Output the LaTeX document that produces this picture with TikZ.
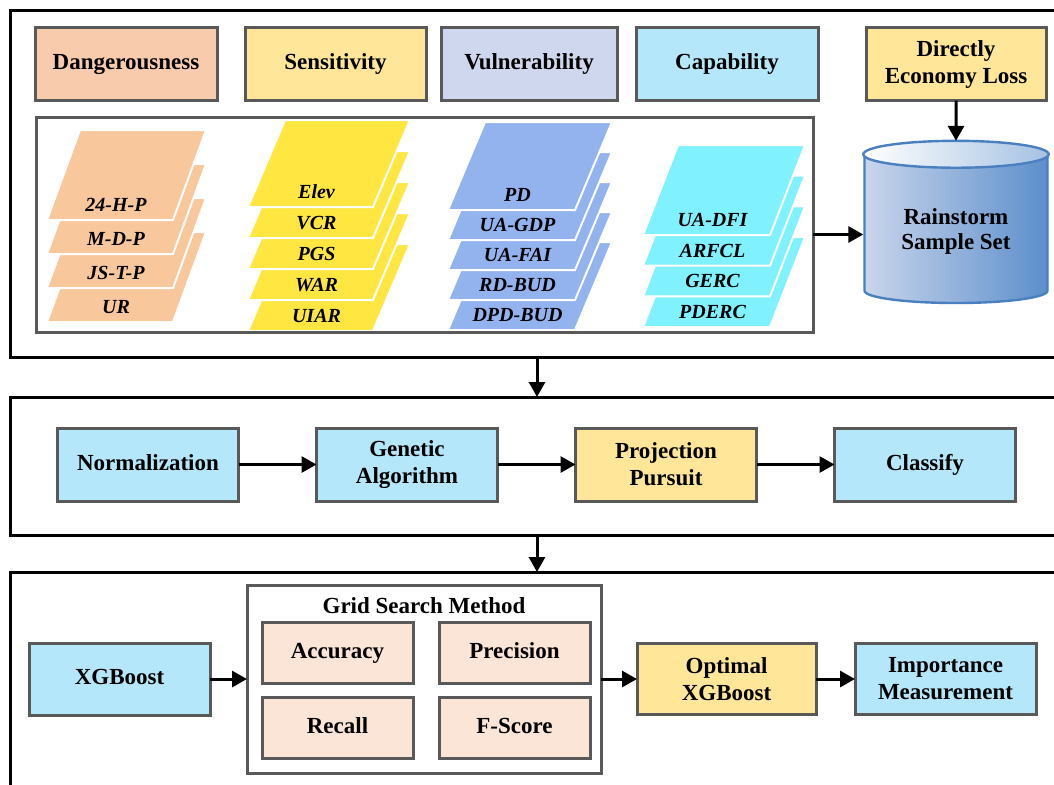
\documentclass[tikz,border=0pt]{standalone}
\usepackage{fontspec}
\setmainfont{Liberation Serif}
\usetikzlibrary{positioning, shapes.geometric, arrows.meta, calc}

\definecolor{borde}{HTML}{595959}
\definecolor{melocoton}{HTML}{F8CBAD}
\definecolor{amarillo}{HTML}{FFE699}
\definecolor{lavanda}{HTML}{CFD7EE}
\definecolor{celeste}{HTML}{B4E7FA}
\definecolor{rosado}{HTML}{FBE5D6}
\definecolor{naranja}{HTML}{F9C79C}
\definecolor{limon}{HTML}{FFE641}
\definecolor{azul}{HTML}{93B3EF}
\definecolor{cian}{HTML}{7FF1FF}
\definecolor{cilclaro}{HTML}{C9D5EC}
\definecolor{cilosc}{HTML}{5C8FCB}
\definecolor{cilborde}{HTML}{4A80C0}

\tikzset{
	caja/.style={draw=borde, line width=1.5pt, outer sep=0pt, align=center,
		minimum width=90.5pt, minimum height=36.5pt,
		font=\bfseries\fontsize{11.5}{13.5}\selectfont},
	linea/.style={text height=8pt, text depth=2.5pt},
	marco/.style={draw=black, line width=1.5pt, outer sep=0pt, anchor=north west, minimum width=527pt},
	etiq/.style={font=\bfseries\itshape\fontsize{10}{12}\selectfont, inner sep=1pt},
	cilindro/.style={cylinder, shape border rotate=90, aspect=0.2, draw=cilborde, line width=1.2pt,
		minimum width=91.5pt, minimum height=80.5pt, left color=cilclaro, middle color=cilclaro!90!cilosc,
		right color=cilosc, align=center, font=\bfseries\fontsize{11.5}{12.5}\selectfont},
	flecha/.style={-{Triangle[length=7.5pt, width=8pt]}, line width=1.5pt}
}

% capa: x0, y base, ancho, desplazamiento, alto, color, nombre, texto
\newcommand{\capa}[8]{%
	\filldraw[fill=#6, draw=white, line width=1pt] (#1,#2) -- ++(#3,0) -- ++(#4,-#5) -- ++(-#3,0) -- cycle;
	\node[etiq] (#7) at ({#1+#3/2+6},{#2-15}) {#8};}

\begin{document}
\begin{tikzpicture}[x=0.5pt, y=-0.5pt]
	\useasboundingbox (0,0) rectangle (1054,784);

	% marcos
	\node [marco, minimum height=173.5pt] (etapa1) at (10,10) {};
	\node [marco, minimum height=69pt] (etapa2) at (10,397) {};
	\node [marco, minimum height=114pt] (etapa3) at (10,572) {};

	% factores
	\node [caja, linea, fill=melocoton, minimum width=91pt] (peligro) at (126,63.5) {Dangerousness};
	\node [caja, linea, fill=amarillo] (sensib) [right=14pt of peligro] {Sensitivity};
	\node [caja, linea, fill=lavanda, minimum width=88pt] (vulner) [right=7.5pt of sensib] {Vulnerability};
	\node [caja, linea, fill=celeste, minimum width=91pt] (capac) [right=9.5pt of vulner] {Capability};
	\node [caja, fill=amarillo, minimum width=90pt] (perdida) at (956,64) {Directly\\Economy Loss};

	% indicadores
	\foreach \k/\t in {3/UR, 2/JS-T-P, 1/M-D-P, 0/24-H-P}
		\capa{47}{220+34*\k}{126}{33}{90}{naranja}{pel\k}{\t};
	\foreach \k/\t in {4/UIAR, 3/WAR, 2/PGS, 1/VCR, 0/Elev}
		\capa{248}{207+31*\k}{125}{37}{87}{limon}{sen\k}{\t};
	\foreach \k/\t in {4/DPD-BUD, 3/RD-BUD, 2/UA-FAI, 1/UA-GDP, 0/PD}
		\capa{448}{210+30*\k}{127}{37}{88}{azul}{vul\k}{\t};
	\foreach \k/\t in {3/PDERC, 2/GERC, 1/ARFCL, 0/UA-DFI}
		\capa{643}{235+30.7*\k}{127}{35}{90}{cian}{cap\k}{\t};
	\node [draw=borde, line width=1.5pt, outer sep=0pt, minimum width=388.5pt, minimum height=107.5pt,
		anchor=north west] (indic) at (36,117) {};

	% muestra
	\node [cilindro, anchor=shape center] (muestra) at (956,222.5) {Rainstorm\\Sample Set};
	\path [draw=cilborde, line width=1.2pt, left color=white, middle color=white, right color=cilosc!55]
		let \p1=(muestra.before top), \p2=(muestra.after top), \p3=(muestra.top) in
		($(\p1)!0.5!(\p2)$) ellipse [x radius={abs(\x2-\x1)/2}, y radius={abs(\y3-\y1)}];

	% proyeccion
	\node [caja, linea, fill=celeste] (norm) at (148,464.5) {Normalization};
	\node [caja, fill=celeste] (genetico) [right=39pt of norm] {Genetic\\Algorithm};
	\node [caja, fill=amarillo] (proyeccion) [right=39pt of genetico] {Projection\\Pursuit};
	\node [caja, linea, fill=celeste] (clasif) [right=39pt of proyeccion] {Classify};

	% xgboost
	\node [caja, linea, fill=celeste, minimum height=36pt] (xgb) at (119.5,679) {XGBoost};
	\node [draw=borde, line width=1.5pt, outer sep=0pt, minimum width=177pt, minimum height=94pt]
		(rejilla) [right=18.5pt of xgb] {};
	\node [font=\bfseries\fontsize{11.5}{13.5}\selectfont] (titulo) [below=2.5pt of rejilla.north] {Grid Search Method};
	\node [caja, linea, fill=rosado, minimum width=75.5pt, minimum height=30.5pt] (exactitud) at (337.5,652.5) {Accuracy};
	\node [caja, linea, fill=rosado, minimum width=75.5pt, minimum height=30.5pt] (precision) [right=13pt of exactitud] {Precision};
	\node [caja, linea, fill=rosado, minimum width=75.5pt, minimum height=30.5pt] (recall) [below=7pt of exactitud] {Recall};
	\node [caja, linea, fill=rosado, minimum width=75.5pt, minimum height=30.5pt] (fscore) [below=7pt of precision] {F-Score};
	\node [caja, fill=amarillo, minimum width=89.5pt, minimum height=35.5pt] (optimo) [right=18pt of rejilla] {Optimal\\XGBoost};
	\node [caja, fill=celeste, minimum height=35.5pt] (importancia) [right=19.5pt of optimo] {Importance\\Measurement};

	% flechas
	\path [flecha]
		(perdida) edge (muestra)
		([yshift=-5pt]indic.east) edge ([yshift=-5pt]indic.east -| muestra.west)
		(etapa1.south) edge (etapa2.north)
		(etapa2.south) edge (etapa3.north)
		(norm) edge (genetico)
		(genetico) edge (proyeccion)
		(proyeccion) edge (clasif)
		(xgb) edge (rejilla)
		(rejilla) edge (optimo)
		(optimo) edge (importancia);
\end{tikzpicture}
\end{document}
